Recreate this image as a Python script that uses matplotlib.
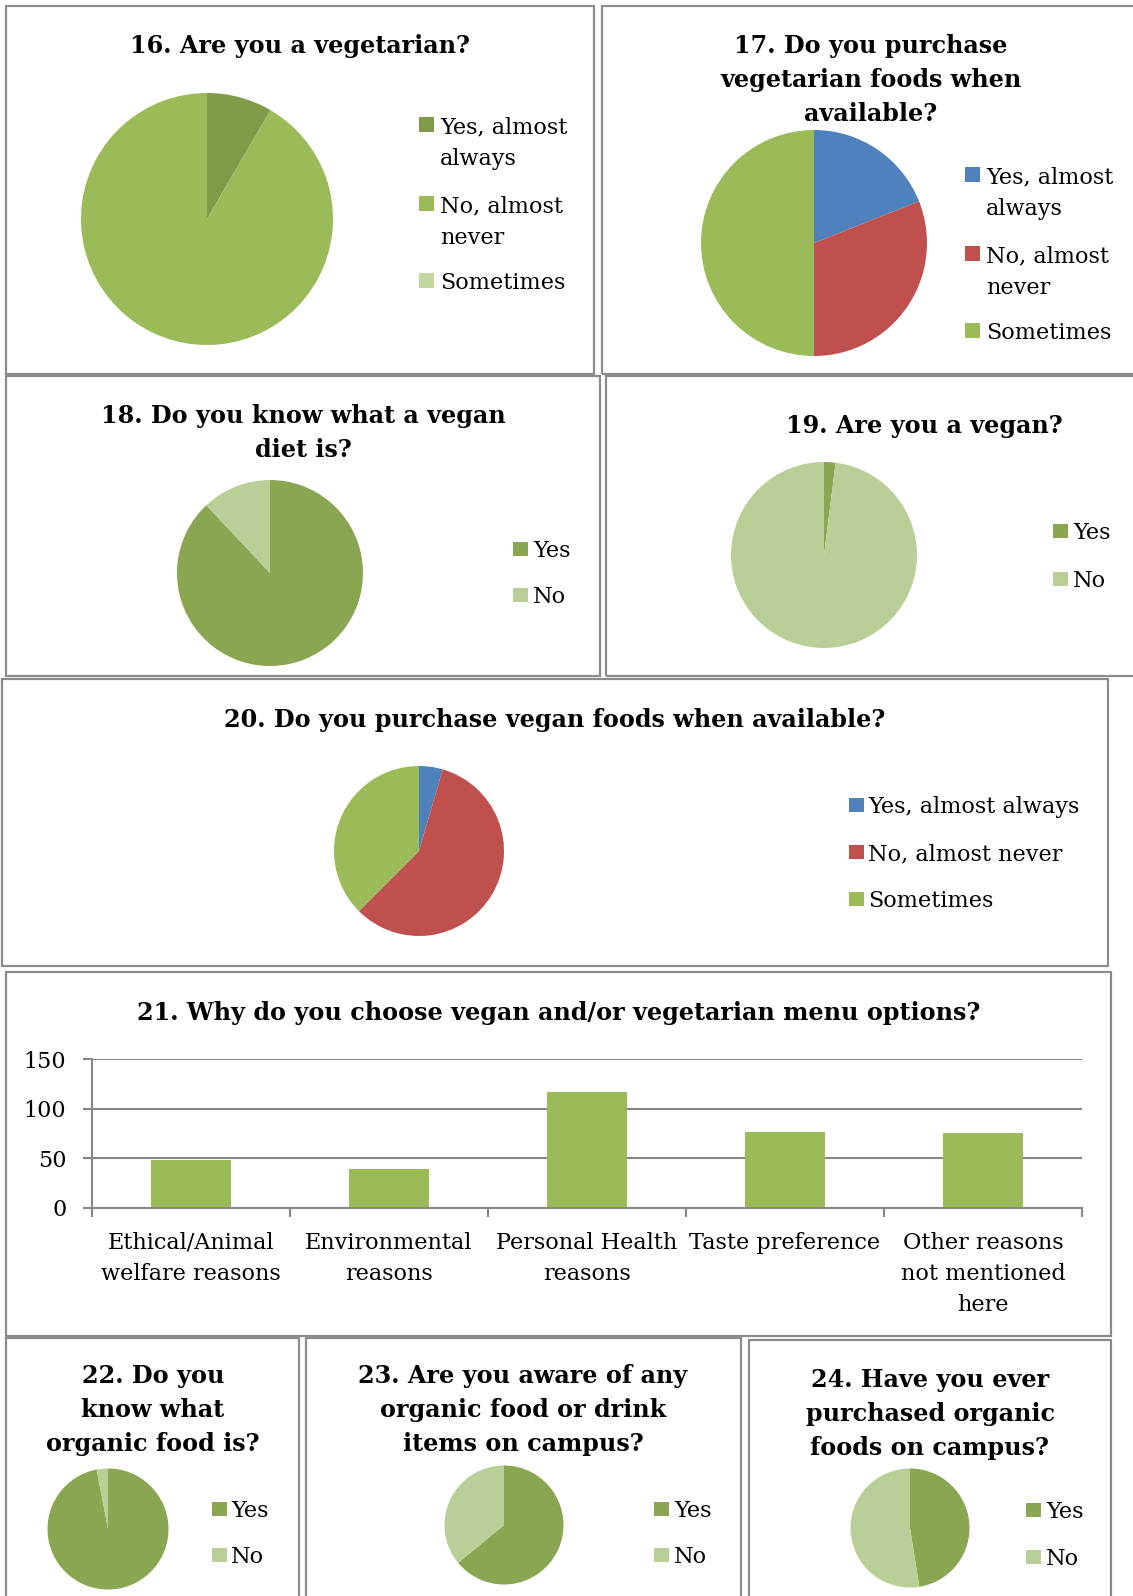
import numpy as np
import matplotlib.pyplot as plt
from matplotlib.patches import Rectangle

plt.rcParams['font.family'] = 'DejaVu Serif'

W, H = 1133, 1596

# survey answers (share of respondents, bar chart in counts)
q16_labels = ['Yes, almost\nalways', 'No, almost\nnever', 'Sometimes']
q16_values = [8.4, 91.6, 0.0]
q17_labels = ['Yes, almost\nalways', 'No, almost\nnever', 'Sometimes']
q17_values = [19.0, 31.0, 50.0]
yes_no = ['Yes', 'No']
q18_values = [88.0, 12.0]
q19_values = [2.0, 98.0]
q20_labels = ['Yes, almost always', 'No, almost never', 'Sometimes']
q20_values = [4.5, 58.0, 37.5]
q21_labels = ['Ethical/Animal\nwelfare reasons', 'Environmental\nreasons',
              'Personal Health\nreasons', 'Taste preference',
              'Other reasons\nnot mentioned\nhere']
q21_values = [48, 39, 117, 77, 76]
q22_values = [97.0, 3.0]
q23_values = [64.0, 36.0]
q24_values = [47.5, 52.5]

greens16 = ['#7F9B48', '#9BBB59', '#C3D69B']
office = ['#4F81BD', '#C0504D', '#9BBB59']
greens = ['#8AA650', '#BACF97']
GRID = '#878787'
TITLE_SIZE = 17.2
TEXT_SIZE = 16.1

fig = plt.figure(figsize=(W / 100, H / 100), dpi=100)


# everything below is laid out in pixels from the top-left corner
def fx(x):
    return x / W


def fy(y):
    return 1 - y / H


def frame(x0, y0, x1, y1):
    fig.add_artist(Rectangle((fx(x0), fy(y1)), (x1 - x0) / W, (y1 - y0) / H,
                             transform=fig.transFigure, fill=False,
                             ec='#8C8C8C', lw=1.6))


def lines(x, y, text, gap, **kw):
    for i, s in enumerate(text.split('\n')):
        fig.text(fx(x), fy(y + i * gap), s, va='baseline', **kw)


def title(cx, y, text):
    lines(cx, y, text, 34, ha='center', size=TITLE_SIZE, weight='bold')


def pie(cx, cy, r, values, colors):
    ax = fig.add_axes([fx(cx - r), fy(cy + r), 2 * r / W, 2 * r / H])
    wedges, _ = ax.pie(values, colors=colors, startangle=90, counterclock=False,
                       radius=1, wedgeprops={'linewidth': 0})
    for w in wedges:
        w.set_clip_on(False)
    ax.set_xlim(-1, 1)
    ax.set_ylim(-1, 1)
    return ax


def legend(mx, tx, ys, labels, colors, gap=32):
    for y, lab, c in zip(ys, labels, colors):
        fig.add_artist(Rectangle((fx(mx), fy(y - 1)), 14.5 / W, 14.5 / H,
                                 transform=fig.transFigure, color=c, lw=0))
        lines(tx, y, lab, gap, size=TEXT_SIZE)


# panel frames
frame(6, 6, 594, 374)
frame(602, 6, 1140, 374)
frame(6, 376, 600, 676)
frame(606, 376, 1140, 676)
frame(2, 679, 1108, 966)
frame(6, 972, 1111, 1336)
frame(6, 1338, 299, 1600)
frame(306, 1338, 741, 1600)
frame(749, 1340, 1111, 1600)

# 16
title(300, 53, '16. Are you a vegetarian?')
pie(207, 219, 126, q16_values, greens16)
legend(419, 440, [133, 212, 289], q16_labels, greens16)

# 17
title(871, 53, '17. Do you purchase\nvegetarian foods when\navailable?')
pie(814, 243, 113, q17_values, office)
legend(965, 986, [183, 262, 339], q17_labels, office)

# 18
title(303, 423, '18. Do you know what a vegan\ndiet is?')
pie(270, 573, 93, q18_values, greens)
legend(513, 533, [557, 603], yes_no, greens)

# 19
title(924, 433, '19. Are you a vegan?')
pie(824, 555, 93, q19_values, greens)
legend(1053, 1073, [539, 587], yes_no, greens)

# 20
title(555, 727, '20. Do you purchase vegan foods when available?')
pie(419, 851, 85, q20_values, office)
legend(849, 868, [813, 860, 907], q20_labels, office)

# 21 - bar chart
title(559, 1020, '21. Why do you choose vegan and/or vegetarian menu options?')
ax = fig.add_axes([fx(92), fy(1208), (1082 - 92) / W, (1208 - 1059) / H])
x = np.arange(len(q21_values))
ax.bar(x, q21_values, width=0.4, color='#9BBB59', zorder=2)
ax.set_xlim(-0.5, len(x) - 0.5)
ax.set_ylim(0, 150)
ax.set_yticks([0, 50, 100, 150])
ax.yaxis.grid(True, color=GRID, lw=1.5)
ax.set_axisbelow(True)
ax.set_xticks(x, q21_labels)
ax.set_xticks(np.arange(len(x) + 1) - 0.5, minor=True)
ax.tick_params(axis='x', which='major', length=0, pad=17, labelsize=TEXT_SIZE)
ax.tick_params(axis='x', which='minor', length=6.5, width=1.5, color=GRID)
ax.tick_params(axis='y', length=6.5, width=1.5, color=GRID, pad=12,
               labelsize=TEXT_SIZE)
for s in ['top', 'right']:
    ax.spines[s].set_visible(False)
for s in ['left', 'bottom']:
    ax.spines[s].set_color(GRID)
    ax.spines[s].set_linewidth(1.5)
for t in ax.get_xticklabels():
    t.set_linespacing(1.55)

# 22
title(153, 1383, '22. Do you\nknow what\norganic food is?')
pie(108, 1529, 60.5, q22_values, greens)
legend(212, 231, [1517, 1563], yes_no, greens)

# 23
title(523, 1383, '23. Are you aware of any\norganic food or drink\nitems on campus?')
pie(504, 1525, 59.5, q23_values, greens)
legend(654, 674, [1517, 1563], yes_no, greens)

# 24
title(930, 1387, '24. Have you ever\npurchased organic\nfoods on campus?')
pie(910, 1528, 59.5, q24_values, greens)
legend(1026, 1046, [1518, 1565], yes_no, greens)

fig.savefig('out.png', dpi=100)
